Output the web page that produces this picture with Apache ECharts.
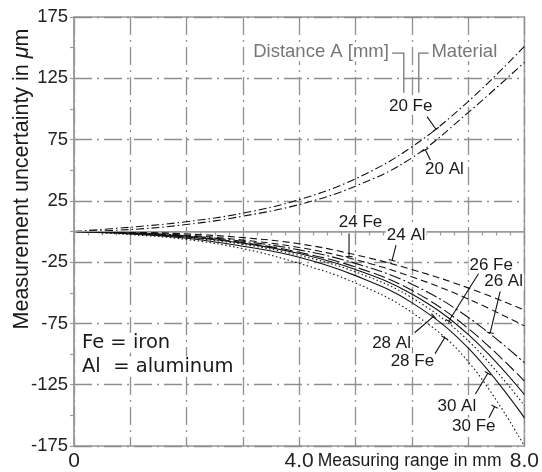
<!DOCTYPE html>
<html><head><meta charset="utf-8">
<script src="https://cdn.jsdelivr.net/npm/echarts@6/dist/echarts.min.js"></script>
<style>html,body{margin:0;padding:0;background:#fff}#c{width:542px;height:472px}</style>
</head><body><div id="c"></div>
<script>
// ---- data (measuring range in mm, uncertainty in µm) ----
const xValues = [0, 1, 2, 3, 4, 5, 6, 7, 8];
const fe20 = [0, 3.5, 8, 15, 26, 43, 69, 106, 151];
const al20 = [0, 1.6, 5.7, 12.5, 22, 37, 60, 97, 138];
const al24 = [0, -0.5, -2, -5, -10, -19, -31, -46, -64];
const fe24 = [0, -1, -3, -7, -13, -23, -37, -55, -77];
const al26 = [0, -1, -3.5, -8, -15, -26, -43, -70, -107];
const fe26 = [0, -1.2, -4, -9, -17, -29, -48, -79, -122];
const al28 = [0, -1.5, -4.5, -9.5, -18, -31, -51, -84, -133];
const fe28 = [0, -1.8, -5, -10.5, -19.5, -33, -54, -89, -142];
const al30 = [0, -2, -5.5, -12, -21, -36, -58, -95, -152];
const fe30 = [0, -2.5, -6.5, -14, -26, -42, -66, -106, -175];
const xTickLabels = {0: '0', 4: '4.0', 8: '8.0'};

const GRAY = '#8e8e8e';
const FONT = "'Liberation Sans', Arial, Helvetica, sans-serif";
const dashDotGrid = [18, 5, 2, 5];

function pairs(arr) { return arr.map((v, i) => [xValues[i], v]); }
function line(name, arr, type) {
  return {
    name, type: 'line', data: pairs(arr), smooth: 0.4,
    symbol: 'none', silent: true,
    lineStyle: {color: '#111', width: 1.1, type: type}
  };
}

const chart = echarts.init(document.getElementById('c'), null, {renderer: 'canvas'});
const series = [
  line('20 Fe', fe20, [8, 3, 1.5, 3]),
  line('20 Al', al20, [8, 3, 1.5, 3]),
  line('24 Al', al24, [7, 4]),
  line('24 Fe', fe24, [7, 4]),
  line('26 Al', al26, [12, 3, 2, 3]),
  line('26 Fe', fe26, [12, 4]),
  line('28 Al', al28, 'solid'),
  line('28 Fe', fe28, [1.5, 2.5]),
  line('30 Al', al30, 'solid'),
  line('30 Fe', fe30, [1.5, 2.5])
];
series[0].markLine = {
  silent: true, symbol: 'none', label: {show: false},
  lineStyle: {color: '#9a9a9a', type: 'solid', width: 1.2},
  data: [{yAxis: 0}]
};

chart.setOption({
  animation: false,
  backgroundColor: '#fff',
  grid: {left: 74, right: 16, top: 17, bottom: 23, show: true, borderColor: '#9a9a9a', borderWidth: 1.5},
  xAxis: {
    type: 'value', min: 0, max: 8, interval: 1,
    axisLine: {lineStyle: {color: '#9a9a9a', width: 1.5}},
    axisTick: {show: true, length: 4, inside: false, lineStyle: {color: '#9a9a9a', width: 1.2}},
    minorTick: {show: true, splitNumber: 4, length: 4, lineStyle: {color: '#9a9a9a', width: 1.2}},
    axisLabel: {
      margin: 5, fontFamily: FONT, fontSize: 21, color: '#222',
      showMinLabel: true, showMaxLabel: true,
      formatter: v => (xTickLabels[v] !== undefined ? xTickLabels[v] : '')
    },
    splitLine: {show: true, lineStyle: {color: GRAY, width: 1.3, type: dashDotGrid}}
  },
  yAxis: {
    type: 'value', min: -175, max: 175, interval: 50,
    axisLine: {show: true, lineStyle: {color: '#9a9a9a', width: 1.5}},
    axisTick: {show: true, length: 4, lineStyle: {color: '#9a9a9a', width: 1.2}},
    minorTick: {show: true, splitNumber: 2, length: 4, lineStyle: {color: '#9a9a9a', width: 1.2}},
    axisLabel: {margin: 6, fontFamily: FONT, fontSize: 18.5, color: '#222'},
    splitLine: {show: true, lineStyle: {color: GRAY, width: 1.3, type: dashDotGrid}}
  },
  series
});

// ---- annotations placed in data coordinates ----
const curveLabels = [
  {text: '20 Fe', at: [5.98, 102.1], from: [6.27, 93.7], to: [6.43, 83.4]},
  {text: '20 Al', at: [6.58, 50.6], from: [6.33, 58.3], to: [6.24, 66.7]},
  {text: '24 Fe', at: [5.09, 7.9], from: [4.885, -1.6], to: [4.885, -20.5]},
  {text: '24 Al', at: [5.90, -3.0], from: [5.72, -11.1], to: [5.65, -23.5]},
  {text: '26 Fe', at: [7.41, -27.3], from: [7.19, -34.0], to: [6.655, -73.2]},
  {text: '26 Al', at: [7.63, -40.8], from: [7.57, -48.9], to: [7.393, -82.6]},
  {text: '28 Al', at: [5.64, -91.4], from: [6.05, -82.6], to: [6.39, -69.1]},
  {text: '28 Fe', at: [6.01, -106.3], from: [6.37, -102.9], to: [6.584, -86.7]},
  {text: '30 Al', at: [6.80, -142.6], from: [7.13, -132.6], to: [7.35, -115.6]},
  {text: '30 Fe', at: [7.10, -158.8], from: [7.36, -152.9], to: [7.47, -142.9]}
];
const distanceText = {text: 'Distance A [mm]', at: [5.593, 146.6]};
const materialText = {text: 'Material', at: [6.349, 146.6]};
const distanceBracket = [[5.651, 145.6], [5.858, 145.6], [5.858, 113.2]];
const materialBracket = [[6.124, 113.2], [6.124, 145.6], [6.301, 145.6]];
const legendLines = [
  {text: 'Fe = iron', at: [0.142, -90.7]},
  {text: 'Al  = aluminum', at: [0.142, -110.2]}
];

function px(p) { return chart.convertToPixel({gridIndex: 0}, p); }
const g = [];
curveLabels.forEach(l => {
  const c = px(l.at), a = px(l.from), b = px(l.to);
  g.push({type: 'line', z: 90, silent: true,
    shape: {x1: a[0], y1: a[1], x2: b[0], y2: b[1]},
    style: {stroke: '#111', lineWidth: 1.1}});
  const dx = b[0] - a[0], dy = b[1] - a[1], len = Math.hypot(dx, dy) || 1;
  const nx = -dy / len * 3.5, ny = dx / len * 3.5;
  g.push({type: 'line', z: 90, silent: true,
    shape: {x1: b[0] - nx, y1: b[1] - ny, x2: b[0] + nx, y2: b[1] + ny},
    style: {stroke: '#111', lineWidth: 1.1}});
  g.push({type: 'text', z: 100, silent: true, x: c[0], y: c[1],
    style: {text: l.text, font: '17px ' + FONT, fill: '#1a1a1a', align: 'center', verticalAlign: 'middle',
      backgroundColor: '#fff', padding: [0, 1]}});
});
{
  const d = px(distanceText.at), m = px(materialText.at);
  g.push({type: 'text', z: 100, silent: true, x: d[0], y: d[1],
    style: {text: distanceText.text, font: '18.5px ' + FONT, fill: '#777', align: 'right', verticalAlign: 'middle',
      backgroundColor: '#fff'}});
  g.push({type: 'text', z: 100, silent: true, x: m[0], y: m[1],
    style: {text: materialText.text, font: '18.5px ' + FONT, fill: '#777', align: 'left', verticalAlign: 'middle',
      backgroundColor: '#fff'}});
  [distanceBracket, materialBracket].forEach(br => {
    g.push({type: 'polyline', z: 95, silent: true, shape: {points: br.map(px)},
      style: {stroke: '#777', lineWidth: 1.3, fill: null}});
  });
}
legendLines.forEach(l => {
  const c = px(l.at);
  g.push({type: 'text', z: 100, silent: true, x: c[0], y: c[1],
    style: {text: l.text, font: "19.5px 'DejaVu Sans', sans-serif", fill: '#1a1a1a', align: 'left', verticalAlign: 'middle',
      backgroundColor: '#fff'}});
});
// y axis title
g.push({type: 'text', z: 100, silent: true, x: 22, y: 179, rotation: Math.PI / 2,
  style: {
    text: '{a|Measurement uncertainty in }{b|μ}{a|m}',
    align: 'center', verticalAlign: 'middle',
    rich: {
      a: {fontFamily: FONT, fontSize: 21.5, fill: '#1a1a1a', color: '#1a1a1a'},
      b: {fontFamily: FONT, fontSize: 21.5, fontStyle: 'italic', fill: '#1a1a1a', color: '#1a1a1a'}
    }
  }});
// x axis title
{
  const c = px([5.96, 0]);
  const yb = chart.convertToPixel({gridIndex: 0}, [0, -175])[1];
  g.push({type: 'text', z: 100, silent: true, x: c[0], y: yb + 15,
    style: {text: 'Measuring range in mm', font: '17.5px ' + FONT, fill: '#1a1a1a', align: 'center', verticalAlign: 'middle'}});
}
chart.setOption({graphic: g});
</script>
</body></html>
